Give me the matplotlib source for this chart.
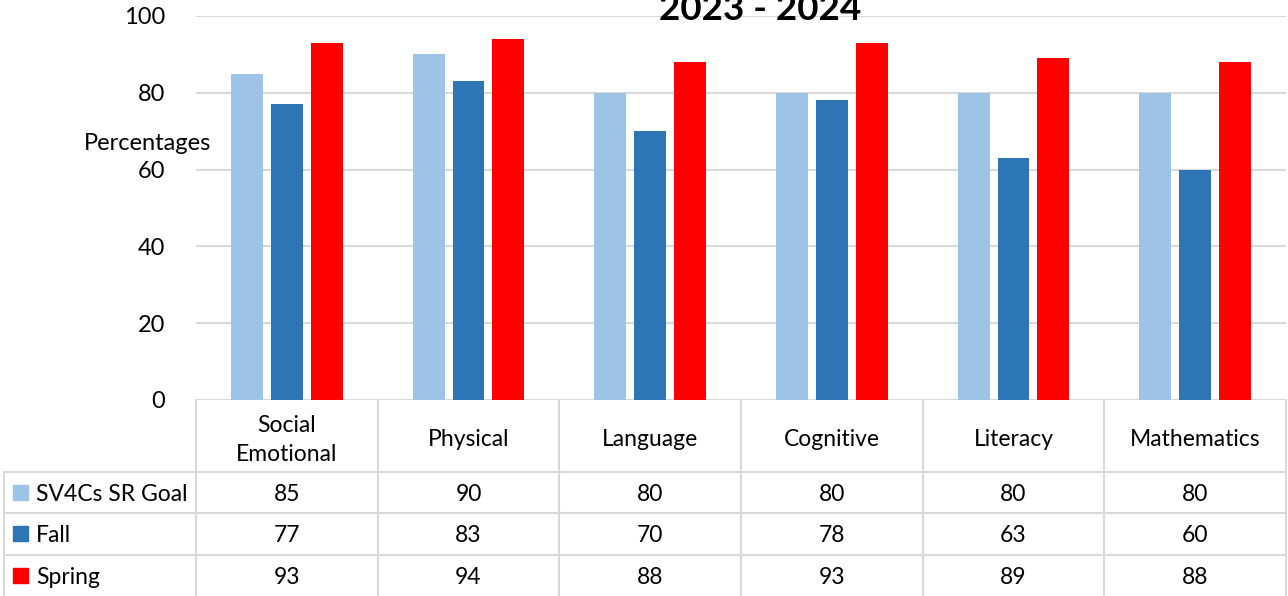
import numpy as np
import matplotlib
matplotlib.use('agg')
import matplotlib.pyplot as plt
from matplotlib.transforms import blended_transform_factory
from matplotlib.patches import Rectangle

plt.rcParams['font.family'] = ['Lato', 'DejaVu Sans']

# data
categories = ["Social\nEmotional", "Physical", "Language", "Cognitive", "Literacy", "Mathematics"]
series_names = ["SV4Cs SR Goal", "Fall", "Spring"]
goal = [85, 90, 80, 80, 80, 80]
fall = [77, 83, 70, 78, 63, 60]
spring = [93, 94, 88, 93, 89, 88]
colors = ["#9DC3E6", "#2E75B6", "#FF0000"]
title = "2023 - 2024"

W, H = 1288, 596
fig = plt.figure(figsize=(W / 100, H / 100), dpi=100)

def fx(px):
    return px / W

def fy(py):
    return 1 - py / H

ax = fig.add_axes([fx(196), fy(400), fx(1286) - fx(196), fy(16) - fy(400)])

x = np.arange(len(categories))
bw = 0.176
step = 0.22
values = [goal, fall, spring]
for k, (vals, c) in enumerate(zip(values, colors)):
    ax.bar(x + (k - 1) * step, vals, width=bw, color=c, zorder=3)

ax.set_xlim(-0.5, len(categories) - 0.5)
ax.set_ylim(0, 100)
ax.set_yticks(range(0, 101, 20))
ax.set_xticks([])
ax.grid(axis='y', color='#d9d9d9', linewidth=1.5, zorder=0)
for s in ax.spines.values():
    s.set_visible(False)
ax.tick_params(axis='y', length=0, pad=22, labelsize=17)

fig.text(fx(148), fy(143), "Percentages", ha='center', va='center', fontsize=17)
fig.text(fx(760), fy(20), title, ha='center', va='baseline', fontsize=26.5,
         fontweight='bold')

# data table below the axis
tr = blended_transform_factory(ax.transData, fig.transFigure)
lc = '#d9d9d9'
lw = 1.5
n = len(categories)
row_edges = [400, 472, 513, 555, 596]
fs = 16.5

# vertical lines
for i in range(n + 1):
    ax.plot([i - 0.5, i - 0.5], [fy(400), fy(596)], color=lc, lw=lw,
            transform=tr, clip_on=False)
fig.add_artist(plt.Line2D([fx(4), fx(4)], [fy(472), fy(596)], color=lc, lw=lw))
# horizontal lines
for yy in row_edges[1:-1]:
    fig.add_artist(plt.Line2D([fx(4), fx(1286)], [fy(yy), fy(yy)], color=lc, lw=lw))

# header
for i, cat in enumerate(categories):
    ax.text(i, fy(440), cat, ha='center', va='center', fontsize=fs,
            transform=tr, linespacing=1.45)

# rows
for r, (name, vals, c) in enumerate(zip(series_names, values, colors)):
    yc = (row_edges[r + 1] + row_edges[r + 2]) / 2 + 2
    fig.add_artist(Rectangle((fx(13), fy(yc + 5)), fx(15), fy(0) - fy(15),
                             color=c, transform=fig.transFigure))
    fig.text(fx(36), fy(yc), name, ha='left', va='center', fontsize=fs)
    for i, v in enumerate(vals):
        ax.text(i, fy(yc), str(v), ha='center', va='center', fontsize=fs,
                transform=tr)

fig.savefig("out.png", dpi=100)
